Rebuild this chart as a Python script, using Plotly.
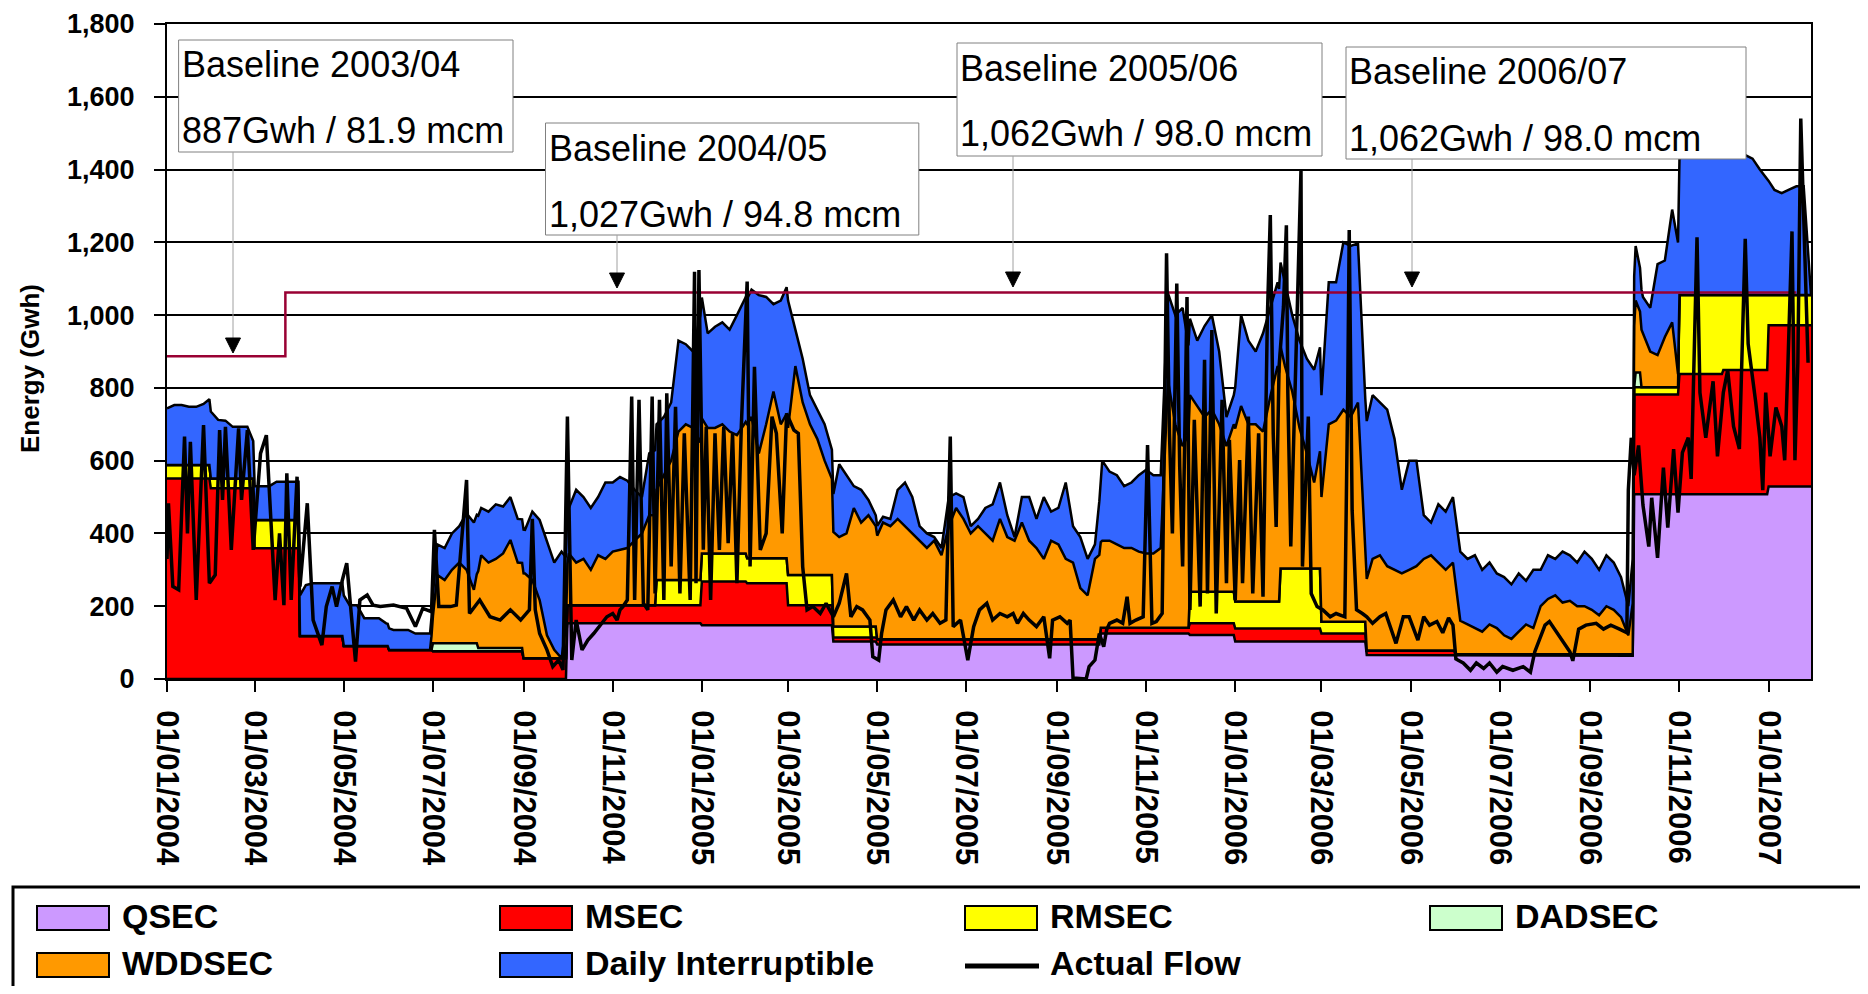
import pandas as pd
import plotly.graph_objects as go

START, END = "2004-01-01", "2007-01-30"

# ---- step-wise capacity series (date each level starts, level in GWh) ----
QSEC_START = ["2004-01-01", "2004-10-01", "2005-01-01", "2005-04-01", "2005-05-01", "2005-10-01",
              "2005-12-01", "2006-01-01", "2006-04-01", "2006-06-01", "2006-10-01", "2007-01-01"]
QSEC_GWH = [0, 153, 148, 103, 95, 125, 121, 103, 66, 64, 508, 529]

MSEC_START = ["2004-01-01", "2004-01-31", "2004-03-01", "2004-04-01", "2004-05-01", "2004-06-01",
              "2004-07-01", "2004-09-01", "2004-10-01", "2005-01-01", "2005-02-01", "2005-03-01",
              "2005-04-01", "2005-05-01", "2005-10-01", "2005-12-01", "2006-01-01", "2006-03-01",
              "2006-04-01", "2006-06-01", "2006-10-01", "2006-11-01", "2006-12-01", "2007-01-01"]
MSEC_GWH = [551, 524, 359, 118, 91, 80, 76, 57, 50, 120, 115, 55, 11, 14, 16, 32, 36, 22, 12, 4,
            274, 330, 341, 443]

RMSEC_START = ["2004-01-01", "2004-01-31", "2004-03-01", "2004-04-01", "2004-12-01", "2005-01-01",
               "2005-02-01", "2005-03-01", "2005-04-01", "2005-05-01", "2005-12-01", "2006-01-01",
               "2006-02-01", "2006-03-01", "2006-04-01", "2006-10-01", "2006-11-01", "2006-12-01",
               "2007-01-01"]
RMSEC_GWH = [37, 27, 78, 0, 69, 77, 69, 83, 30, 0, 87, 74, 165, 32, 0, 20, 217, 206, 83]

DADSEC_START = ["2004-01-01", "2004-07-01", "2004-08-01", "2004-09-01", "2006-10-02", "2006-10-06"]
DADSEC_GWH = [0, 22, 9, 0, 40, 0]

# ---- daily-varying series, read every 5 days from 2004-01-01 ----
WDDSEC_GWH = [
    0, 0, 0, 0, 0, 0, 0, 0, 0, 0, 0, 0,
    0, 0, 0, 0, 0, 0, 0,
    0, 0, 0, 0, 0, 0,
    0, 0, 0, 0, 0, 0,
    0, 0, 0, 0, 0, 0,
    188, 174, 202, 222, 202, 147,
    255, 235, 245, 260, 297, 235,
    233, 215, 160, 63, 23, 0,
    142, 117, 127, 97, 137, 127, 147, 151, 157, 177, 197, 247,
    248, 288, 328, 408, 428, 418, 378,
    345, 345, 355, 335, 325, 355,
    388, 288, 368, 458, 368,
    404, 574, 474, 414, 374, 314, 264,
    246, 256, 326, 286, 306, 276,
    321, 311, 331, 311, 291, 271, 251, 271, 231, 311, 361, 331, 291, 311, 291, 271, 331, 281,
    271, 321, 271, 251, 221, 271, 261, 221, 211, 141, 121, 221,
    239, 239, 229, 219, 219, 209, 204, 204, 219, 679, 559, 499,
    540, 510, 480, 500, 460, 400, 460,
    537, 487, 487, 467, 563, 647,
    556, 486, 386, 316, 236,
    343, 543, 553, 583, 563, 603, 183,
    252, 262, 232, 222, 212, 222, 232, 252, 262, 242, 222, 242,
    92, 82, 72, 62, 82, 72, 52, 42, 62, 82, 72, 132, 152, 162, 142, 147, 132, 132, 122, 107,
    132, 122, 102, 52,
    198, 148, 98, 88, 138, 178,
    0, 0, 0, 0, 0, 0, 0, 0, 0, 0, 0, 0, 0, 0, 0, 0, 0, 0, 0,
]

DAILY_INT_GWH = [
    156, 165, 165, 160, 160, 168,
    184, 161, 159, 142, 142, 142,
    93, 93, 93, 105, 105, 105, 105,
    140, 145, 145, 145, 145, 145,
    112, 112, 76, 76, 76, 62,
    55, 55, 55, 45, 45, 45,
    84, 88, 100, 100, 155, 185,
    130, 140, 150, 129, 118, 120,
    120, 188, 220, 260, 240, 293,
    125, 200, 170, 170, 160, 210, 190, 201, 185, 140, 100, 170,
    180, 160, 160, 250, 220, 210, 350,
    260, 278, 280, 280, 330, 341,
    350, 435, 350, 240, 340,
    350, 100, 120, 80, 80, 100, 80,
    200, 160, 60, 90, 42, 30,
    16, 20, 80, 120, 100, 40, 40, 10, 20, 80, 40, 60, 20, 20, 70, 100, 100, 60,
    10, 70, 120, 80, 170, 80, 100, 210, 100, 140, 100, 40,
    220, 190, 190, 170, 180, 210, 230, 215, 200, 240, 300, 380,
    210, 180, 250, 260, 200, 80, 80,
    250, 230, 200, 270, 244, 230,
    230, 210, 240, 260, 310,
    280, 390, 380, 460, 470, 437, 430,
    450, 420, 430, 360, 230, 300, 290, 120, 90, 160, 160, 180,
    190, 180, 200, 170, 170, 150, 160, 150, 160, 120, 160, 100, 120, 100, 140, 125, 120, 150,
    140, 125, 140, 130, 110, 80,
    150, 100, 120, 250, 210, 310,
    375, 385, 395, 405, 405, 405, 405, 405, 395, 385, 375, 345, 320, 289, 280, 290, 299, 299, 0,
]

# ---- actual flow (day number since 2004-01-01, GWh) ----
FLOW_DAY = [
    0, 1, 4, 8, 12, 14, 16, 20, 25, 29, 33, 36, 38, 40, 44, 49, 51, 55, 59, 64, 68, 74, 77, 80, 82,
    85, 89, 91, 96, 100, 106, 109, 113, 116, 120, 123, 129, 132, 137, 141, 146, 155, 164, 170, 175,
    181, 183, 186, 194, 198, 205, 207, 214, 221, 228, 235, 242, 248, 250, 252, 255, 260, 264, 268,
    271, 274, 277, 280, 284, 288, 292, 296, 301, 305, 308, 310, 312, 315, 318, 320, 323, 326, 329,
    332, 334, 337, 340, 342, 345, 348, 351, 354, 358, 361, 362, 364, 367, 369, 372, 375, 378, 381,
    384, 387, 390, 393, 397, 399, 402, 406, 410, 414, 417, 421, 424, 429, 432, 435, 438, 442, 447,
    451, 456, 460, 465, 468, 472, 476, 481, 483, 487, 489, 492, 497, 502, 506, 511, 515, 520, 524,
    529, 533, 536, 538, 543, 548, 552, 556, 561, 565, 570, 575, 579, 582, 586, 590, 595, 600, 604,
    606, 611, 616, 618, 620, 629, 631, 635, 638, 641, 643, 645, 650, 654, 657, 659, 663, 668, 671,
    674, 677, 681, 683, 684, 686, 688, 691, 693, 695, 698, 700, 703, 707, 710, 712, 715, 718, 722,
    725, 727, 731, 734, 736, 740, 743, 747, 750, 753, 755, 757, 759, 761, 764, 766, 767, 769, 773,
    776, 777, 781, 783, 787, 791, 796, 800, 806, 808, 809, 811, 814, 818, 821, 825, 830, 834, 841,
    846, 850, 856, 860, 864, 869, 873, 877, 880, 882, 887, 892, 896, 901, 905, 910, 914, 921, 928,
    933, 936, 939, 943, 946, 951, 955, 960, 962, 966, 971, 978, 983, 988, 994, 999, 1000, 1002,
    1004, 1007, 1010, 1014, 1016, 1020, 1024, 1027, 1031, 1034, 1037, 1041, 1043, 1047, 1049, 1053,
    1058, 1061, 1065, 1068, 1072, 1076, 1080, 1082, 1087, 1090, 1092, 1094, 1097, 1101, 1105, 1107,
    1109, 1112, 1114, 1116, 1118, 1121, 1123,
]
FLOW_GWH = [
    330, 483, 254, 245, 666, 400, 652, 217, 698, 263, 286, 684, 492, 693, 355, 689, 492, 684, 355,
    620, 670, 217, 400, 203, 565, 217, 556, 254, 483, 162, 93, 199, 254, 199, 272, 318, 48, 217,
    231, 203, 199, 203, 194, 144, 194, 185, 410, 199, 199, 203, 547, 180, 217, 171, 162, 190, 162,
    190, 440, 190, 125, 80, 34, 52, 25, 721, 52, 162, 80, 107, 125, 144, 171, 180, 162, 190, 199,
    217, 776, 217, 767, 208, 190, 776, 235, 767, 217, 785, 309, 748, 235, 675, 217, 1119, 263, 1124,
    355, 693, 217, 675, 355, 693, 373, 675, 263, 693, 1092, 309, 858, 355, 400, 721, 675, 400, 730,
    684, 675, 309, 190, 199, 180, 208, 171, 208, 290, 171, 199, 190, 162, 61, 52, 125, 190, 217,
    171, 199, 162, 190, 162, 180, 153, 162, 666, 144, 162, 52, 144, 190, 208, 162, 180, 171, 180,
    153, 180, 162, 144, 171, 57, 162, 171, 153, 162, 3, 0, 34, 52, 125, 89, 135, 153, 162, 153,
    226, 153, 162, 171, 643, 153, 158, 180, 840, 1170, 675, 400, 1087, 584, 309, 1050, 190, 712,
    199, 877, 235, 959, 180, 767, 263, 657, 217, 602, 263, 721, 235, 675, 226, 996, 1275, 675, 418,
    858, 1023, 1247, 785, 364, 950, 1400, 309, 721, 235, 199, 190, 171, 180, 171, 797, 1234, 464,
    190, 180, 171, 153, 171, 180, 98, 171, 171, 107, 171, 148, 158, 127, 168, 148, 55, 44, 24, 44,
    29, 44, 19, 34, 24, 34, 19, 75, 106, 148, 158, 127, 106, 75, 50, 137, 148, 153, 137, 148, 137,
    127, 519, 663, 560, 642, 478, 364, 498, 333, 581, 416, 632, 457, 622, 663, 550, 1214, 787, 663,
    818, 612, 787, 849, 694, 632, 1210, 921, 766, 663, 519, 787, 612, 746, 694, 601, 838, 1230, 601,
    869, 1540, 1127, 869,
]

BASELINE_DATE = ["2004-01-01", "2004-03-22", "2007-01-20"]
BASELINE_GWH = [887, 1062, 1062]

BASELINE_LABELS = [
    ("Baseline 2003/04", "887Gwh / 81.9 mcm"),
    ("Baseline 2004/05", "1,027Gwh / 94.8 mcm"),
    ("Baseline 2005/06", "1,062Gwh / 98.0 mcm"),
    ("Baseline 2006/07", "1,062Gwh / 98.0 mcm"),
]

SERIES_NAMES = ["QSEC", "MSEC", "RMSEC", "DADSEC", "WDDSEC", "Daily Interruptible", "Actual Flow"]
SERIES_COLORS = ["#CC99FF", "#FF0000", "#FFFF00", "#CCFFCC", "#FF9900", "#3366FF", "#000000"]

FONT = "Liberation Sans, Arial, sans-serif"


def step_xy(starts, vals):
    s = list(pd.to_datetime(starts))
    ends = [d - pd.Timedelta(days=1) for d in s[1:]] + [pd.Timestamp(END)]
    xs, ys = [], []
    for a, b, v in zip(s, ends, vals):
        xs += [a, b]
        ys += [v, v]
    return xs, ys


AREA_DATES = pd.date_range(START, periods=len(WDDSEC_GWH), freq="5D")
FLOW_DATES = pd.Timestamp(START) + pd.to_timedelta(FLOW_DAY, unit="D")

fig = go.Figure()

step_series = [(QSEC_START, QSEC_GWH), (MSEC_START, MSEC_GWH), (RMSEC_START, RMSEC_GWH),
               (DADSEC_START, DADSEC_GWH)]
for i, (st, vals) in enumerate(step_series):
    x, y = step_xy(st, vals)
    fig.add_trace(go.Scatter(
        x=x, y=y, name=SERIES_NAMES[i], mode="lines", stackgroup="one",
        stackgaps="interpolate" if i == 0 else None,
        fillcolor=SERIES_COLORS[i], line=dict(color="black", width=2.5), showlegend=False,
    ))

for j, vals in ((4, WDDSEC_GWH), (5, DAILY_INT_GWH)):
    fig.add_trace(go.Scatter(
        x=AREA_DATES, y=vals, name=SERIES_NAMES[j], mode="lines", stackgroup="one",
        fillcolor=SERIES_COLORS[j], line=dict(color="black", width=2.5), showlegend=False,
    ))

fig.add_trace(go.Scatter(x=BASELINE_DATE, y=BASELINE_GWH, mode="lines", name="Baseline",
                         line=dict(color="#990033", width=2.5, shape="hv"), showlegend=False))
fig.add_trace(go.Scatter(x=FLOW_DATES, y=FLOW_GWH, mode="lines", name="Actual Flow",
                         line=dict(color="black", width=3.5), showlegend=False))

# ---- layout geometry ----
# page body keeps an 8 px margin, so the figure is drawn 8 px in from the window edge
OFF = 8
W, H = 1868 - 2 * OFF, 994 - 2 * OFF
PLOT_X0, PLOT_X1, PLOT_Y0, PLOT_Y1 = 167, 1811, 24, 679   # plot area in window pixels
L, T = PLOT_X0 - OFF, PLOT_Y0 - OFF
R, B = W - (PLOT_X1 - OFF), H - (PLOT_Y1 - OFF)
PW, PH = PLOT_X1 - PLOT_X0, PLOT_Y1 - PLOT_Y0


def px(x):
    return (x - PLOT_X0) / PW


def py(y):
    return (PLOT_Y1 - y) / PH


shapes, annotations = [], []

# baseline label boxes with arrows
boxes = [(178.6, 513, 40, 152, 233, 353), (545.5, 918.8, 123, 235, 617, 288),
         (957, 1322, 43, 156, 1013, 287), (1346, 1746, 47, 159, 1412, 287)]
for (x0, x1, y0, y1, ax, tip), (l1, l2) in zip(boxes, BASELINE_LABELS):
    shapes.append(dict(type="rect", xref="paper", yref="paper", x0=px(x0), x1=px(x1),
                       y0=py(y0), y1=py(y1), fillcolor="white",
                       line=dict(color="#808080", width=1), layer="above"))
    shapes.append(dict(type="line", xref="paper", yref="paper", x0=px(ax), x1=px(ax),
                       y0=py(y1), y1=py(tip - 14), line=dict(color="#a0a0a0", width=1),
                       layer="above"))
    shapes.append(dict(type="path", xref="paper", yref="paper",
                       path=f"M {px(ax - 7.5)} {py(tip - 15)} L {px(ax + 7.5)} {py(tip - 15)} "
                            f"L {px(ax)} {py(tip)} Z",
                       fillcolor="black", line=dict(color="black", width=1), layer="above"))
    for txt, yy in ((l1, y0 + 25), (l2, y0 + 91)):
        annotations.append(dict(text=txt, xref="paper", yref="paper", x=px(x0 + 1), y=py(yy),
                                xanchor="left", yanchor="middle", showarrow=False,
                                font=dict(family=FONT, size=36, color="black")))

# y axis title
annotations.append(dict(text="Energy (Gwh)", xref="paper", yref="paper", x=px(30), y=py(369),
                        textangle=-90, showarrow=False, xanchor="center", yanchor="middle",
                        font=dict(family=FONT, size=26, color="black", weight="bold")))

# legend
shapes.append(dict(type="rect", xref="paper", yref="paper", x0=px(13), x1=px(1865),
                   y0=py(887), y1=py(1010), fillcolor="white", line=dict(color="black", width=3)))
legend_pos = [(37, 917), (500, 917), (965, 917), (1430, 917), (37, 964), (500, 964), (965, 964)]
for name, col, (lx, ly) in zip(SERIES_NAMES, SERIES_COLORS, legend_pos):
    if name == "Actual Flow":
        shapes.append(dict(type="line", xref="paper", yref="paper", x0=px(lx), x1=px(lx + 74),
                           y0=py(ly + 2), y1=py(ly + 2), line=dict(color="black", width=5)))
    else:
        shapes.append(dict(type="rect", xref="paper", yref="paper", x0=px(lx), x1=px(lx + 72),
                           y0=py(ly - 11), y1=py(ly + 13), fillcolor=col,
                           line=dict(color="black", width=2)))
    annotations.append(dict(text=name, xref="paper", yref="paper", x=px(lx + 83), y=py(ly - 1),
                            xanchor="left", yanchor="middle", showarrow=False,
                            font=dict(family=FONT, size=34, color="black", weight="bold")))

fig.update_layout(
    width=W, height=H, autosize=False,
    margin=dict(l=L, r=R, t=T, b=B, pad=0, autoexpand=False),
    paper_bgcolor="white", plot_bgcolor="white",
    font=dict(family=FONT, color="black"),
    showlegend=False,
    shapes=shapes, annotations=annotations,
    xaxis=dict(type="date", range=[START, END], tick0="2004-01-01", dtick="M2",
               tickformat="%d/%m/%Y", tickangle=90, ticks="outside", ticklen=11, tickwidth=2,
               tickcolor="black", showline=True, linecolor="black", linewidth=2, mirror=True,
               showgrid=False, zeroline=False, ticklabelstandoff=12, automargin=False,
               tickfont=dict(family=FONT, size=31, color="black", weight="bold")),
    yaxis=dict(range=[0, 1800], dtick=200, tick0=0, tickformat=",d", ticks="outside", ticklen=11,
               tickwidth=2, tickcolor="black", showline=True, linecolor="black", linewidth=2,
               mirror=True, showgrid=True, gridcolor="black", gridwidth=1.5, zeroline=False,
               ticklabelstandoff=14, automargin=False,
               tickfont=dict(family=FONT, size=27, color="black", weight="bold")),
)

fig.write_html("out.html")
